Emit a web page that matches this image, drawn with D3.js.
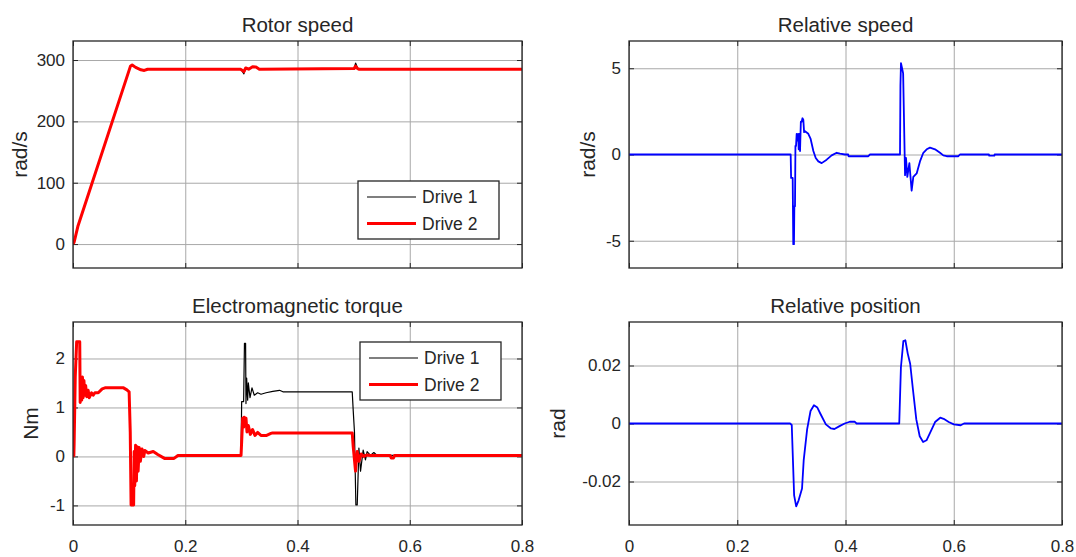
<!DOCTYPE html>
<html>
<head>
<meta charset="utf-8">
<script src="https://cdn.jsdelivr.net/npm/d3@7"></script>
<style>
  html, body { margin: 0; padding: 0; background: #fff; }
  svg { display: block; font-family: "Liberation Sans", Arial, sans-serif; }
  .grid line { stroke: #a8a8a8; stroke-width: 1; }
  .grid path { display: none; }
  .ticks line { stroke: #262626; stroke-width: 1; }
  .ticks path { display: none; }
  .labels path, .labels line { display: none; }
  .labels text { fill: #262626; font-size: 17px; }
</style>
</head>
<body>
<svg id="chart" width="1076" height="557"></svg>
<script>
// time axis ticks (shared)
const timeTicks = [0, 0.2, 0.4, 0.6, 0.8];

// Rotor speed [t, rad/s]
const speedTicks = [0, 100, 200, 300];
const speedDrive1 = [[0,0],[0.002,3],[0.009,30],[0.1024,290],[0.1054,292],[0.1116,288],[0.121,284],[0.127,283],[0.133,285],
  [0.2985,285],[0.302,281],[0.3045,277.5],[0.3077,287],[0.313,285],[0.32,289],[0.326,288.5],[0.332,285],
  [0.5008,286],[0.5035,295],[0.507,287],[0.51,285],[0.8,285]];
const speedDrive2 = [[0,0],[0.002,3],[0.009,30],[0.1024,290],[0.1054,292],[0.1116,288],[0.121,284],[0.127,283],[0.133,285],
  [0.2985,285],[0.302,283],[0.3045,281],[0.3077,287],[0.313,285],[0.32,289],[0.326,288.5],[0.332,285],
  [0.5008,286],[0.5035,290],[0.507,286],[0.51,285],[0.8,285]];

// Electromagnetic torque [t, Nm]
const torqueTicks = [-1, 0, 1, 2];
const torqueDrive1 = [[0,0],[0.0015,0.02],[0.002,0.25],[0.004,1.63],[0.0065,2.34],[0.012,2.34],[0.0128,1.1],[0.0145,1.6],[0.0155,1.15],
  [0.0168,1.62],[0.018,1.2],[0.0195,1.55],[0.021,1.25],[0.0225,1.45],[0.0245,1.22],[0.027,1.35],[0.029,1.2],[0.033,1.3],[0.036,1.25],
  [0.039,1.3],[0.045,1.3],[0.052,1.38],[0.057,1.4],[0.09,1.4],[0.096,1.36],[0.1,1.32],[0.102,0.5],[0.1035,-0.99],[0.108,-0.99],
  [0.109,0.1],[0.11,-0.6],[0.1115,0.23],[0.113,-0.5],[0.1145,0.2],[0.116,-0.3],[0.118,0.18],[0.12,-0.1],[0.123,0.15],[0.126,0],
  [0.128,0.12],[0.134,0.07],[0.143,0.1],[0.151,0.04],[0.163,-0.04],[0.18,-0.04],[0.187,0.02],
  [0.2994,0.02],[0.3005,1.12],[0.304,1.12],[0.3055,2.31],[0.3075,2.31],[0.3082,1.08],[0.3094,1.6],[0.3112,1.15],[0.3124,1.5],
  [0.3154,1.2],[0.3189,1.4],[0.323,1.25],[0.329,1.3],[0.335,1.27],[0.344,1.3],[0.356,1.33],[0.368,1.35],[0.374,1.32],
  [0.4975,1.32],[0.4993,0.93],[0.5015,0.5],[0.504,-0.99],[0.5064,-0.99],[0.5094,0.17],[0.5123,-0.3],[0.517,0.13],[0.5211,-0.07],
  [0.524,0.1],[0.53,0.02],[0.536,0.08],[0.5418,0.02],[0.548,0.02],[0.8,0.02]];
const torqueDrive2 = [[0,0],[0.0015,0.02],[0.002,0.25],[0.004,1.63],[0.0065,2.34],[0.012,2.34],[0.0128,1.1],[0.0145,1.6],[0.0155,1.15],
  [0.0168,1.62],[0.018,1.2],[0.0195,1.55],[0.021,1.25],[0.0225,1.45],[0.0245,1.22],[0.027,1.35],[0.029,1.2],[0.033,1.3],[0.036,1.25],
  [0.039,1.3],[0.045,1.3],[0.052,1.38],[0.057,1.4],[0.09,1.4],[0.096,1.36],[0.1,1.32],[0.102,0.5],[0.1035,-0.99],[0.108,-0.99],
  [0.109,0.1],[0.11,-0.6],[0.1115,0.23],[0.113,-0.5],[0.1145,0.2],[0.116,-0.3],[0.118,0.18],[0.12,-0.1],[0.123,0.15],[0.126,0],
  [0.128,0.12],[0.134,0.07],[0.143,0.1],[0.151,0.04],[0.163,-0.04],[0.18,-0.04],[0.187,0.02],
  [0.2994,0.02],[0.3005,0.3],[0.3023,0.78],[0.304,0.6],[0.305,0.8],[0.3065,0.7],[0.3082,0.78],[0.31,0.5],[0.3124,0.63],[0.316,0.45],
  [0.32,0.55],[0.3242,0.43],[0.3289,0.49],[0.3348,0.43],[0.345,0.43],[0.3526,0.47],[0.3555,0.48],
  [0.4975,0.48],[0.4993,0.2],[0.5034,-0.3],[0.5045,-0.1],[0.5064,0.1],[0.5094,-0.1],[0.5135,0.05],[0.5181,0],[0.524,0.03],[0.53,0.02],
  [0.565,0.02],[0.567,-0.03],[0.571,-0.03],[0.573,0.02],[0.8,0.02]];

// Relative speed [t, rad/s]
const relSpeedTicks = [-5, 0, 5];
const relSpeed = [[0,0],[0.2987,0],[0.2995,-1.36],[0.3024,-1.36],[0.3035,-5.2],[0.3048,-5.2],[0.3055,-3],[0.3067,-3],[0.3075,0.5],
  [0.3086,0.5],[0.3098,1.2],[0.311,0.8],[0.3125,1.2],[0.3135,0.3],[0.3147,1.2],[0.316,0.2],[0.3175,1.9],[0.319,1.9],[0.3205,2.1],
  [0.3221,2],[0.3235,1.3],[0.3252,1.35],[0.3313,1.2],[0.3356,0.9],[0.3406,0.2],[0.345,-0.2],[0.3498,-0.4],[0.356,-0.5],[0.3652,-0.3],
  [0.3744,-0.05],[0.3837,0.1],[0.3898,0.05],[0.399,0],[0.405,0],[0.4055,-0.1],[0.4422,-0.1],[0.4453,0],
  [0.5007,0],[0.5015,4],[0.5025,5.3],[0.5045,5],[0.5065,4.7],[0.5087,1],[0.51,-1.2],[0.5118,-0.2],[0.5142,-1.3],[0.518,-0.5],
  [0.5222,-2.1],[0.5253,-1.3],[0.5315,-1.1],[0.5376,-0.4],[0.5438,0.1],[0.55,0.3],[0.5561,0.4],[0.5654,0.3],[0.5746,0.1],
  [0.5807,-0.05],[0.587,-0.1],[0.6085,-0.1],[0.6115,0],[0.665,0],[0.6655,-0.07],[0.675,-0.07],[0.6755,0],[0.8,0]];

// Relative position [t, rad]
const relPosTicks = [-0.02, 0, 0.02];
const relPos = [[0,0],[0.2976,0],[0.3007,-0.0005],[0.3051,-0.0248],[0.3089,-0.0286],[0.3134,-0.0265],[0.3197,-0.0224],[0.3228,-0.0126],
  [0.3291,-0.002],[0.3354,0.0043],[0.3417,0.0063],[0.348,0.0055],[0.3543,0.0031],[0.3637,-0.0003],[0.3732,-0.0017],[0.3795,-0.0019],
  [0.389,-0.0009],[0.3984,0],[0.4079,0.0006],[0.4173,0.0006],[0.4205,0],[0.4993,0],[0.5024,0.0194],[0.5069,0.0284],[0.5106,0.0287],
  [0.515,0.0241],[0.5195,0.0206],[0.5245,0.0119],[0.5308,0.0014],[0.5371,-0.0044],[0.5434,-0.0064],[0.5497,-0.0058],[0.556,-0.0033],
  [0.5655,0.0005],[0.575,0.002],[0.5813,0.0016],[0.5907,0.0005],[0.6002,-0.0003],[0.6128,-0.0006],[0.619,0],[0.8,0]];

const legendNames = ['Drive 1', 'Drive 2'];

const svg = d3.select('#chart');
const textColor = '#262626';
let clipId = 0;

function makePanel(opt) {
  const w = opt.x1 - opt.x0, h = opt.y1 - opt.y0;
  const x = d3.scaleLinear().domain([0, 0.8]).range([opt.x0, opt.x1]);
  const y = d3.scaleLinear().domain(opt.yDomain).range([opt.y1, opt.y0]);
  const g = svg.append('g');

  // grid
  g.append('g').attr('class', 'grid').attr('transform', `translate(0,${opt.y1})`)
    .call(d3.axisBottom(x).tickValues(timeTicks).tickSize(-h).tickFormat(''));
  g.append('g').attr('class', 'grid').attr('transform', `translate(${opt.x0},0)`)
    .call(d3.axisLeft(y).tickValues(opt.yTicks).tickSize(-w).tickFormat(''));

  // inward tick marks on all four sides
  const tl = 5;
  g.append('g').attr('class', 'ticks').attr('transform', `translate(0,${opt.y1})`)
    .call(d3.axisBottom(x).tickValues(timeTicks).tickSize(-tl).tickFormat(''));
  g.append('g').attr('class', 'ticks').attr('transform', `translate(0,${opt.y0})`)
    .call(d3.axisTop(x).tickValues(timeTicks).tickSize(-tl).tickFormat(''));
  g.append('g').attr('class', 'ticks').attr('transform', `translate(${opt.x0},0)`)
    .call(d3.axisLeft(y).tickValues(opt.yTicks).tickSize(-tl).tickFormat(''));
  g.append('g').attr('class', 'ticks').attr('transform', `translate(${opt.x1},0)`)
    .call(d3.axisRight(y).tickValues(opt.yTicks).tickSize(-tl).tickFormat(''));

  // tick labels
  g.append('g').attr('class', 'labels').attr('transform', `translate(${opt.x0},0)`)
    .call(d3.axisLeft(y).tickValues(opt.yTicks).tickSize(0).tickPadding(8).tickFormat(d => String(d)));
  if (opt.xLabels) {
    g.append('g').attr('class', 'labels').attr('transform', `translate(0,${opt.y1})`)
      .call(d3.axisBottom(x).tickValues(timeTicks).tickSize(0).tickPadding(15).tickFormat(d => String(d)));
  }

  // data
  const id = 'clip' + (clipId++);
  svg.append('clipPath').attr('id', id).append('rect')
    .attr('x', opt.x0).attr('y', opt.y0).attr('width', w).attr('height', h);
  const line = d3.line().x(d => x(d[0])).y(d => y(d[1]));
  opt.series.forEach(s => {
    g.append('path').datum(s.data)
      .attr('clip-path', `url(#${id})`)
      .attr('fill', 'none').attr('stroke', s.color).attr('stroke-width', s.width)
      .attr('stroke-linejoin', 'round').attr('d', line);
  });

  // box
  g.append('rect').attr('x', opt.x0).attr('y', opt.y0).attr('width', w).attr('height', h)
    .attr('fill', 'none').attr('stroke', textColor).attr('stroke-width', 1.3);

  // title & y label
  g.append('text').attr('x', (opt.x0 + opt.x1) / 2).attr('y', opt.y0 - 9)
    .attr('text-anchor', 'middle').attr('fill', textColor).attr('font-size', 20.5).text(opt.title);
  g.append('text').attr('transform', `translate(${opt.ylabelX},${(opt.y0 + opt.y1) / 2}) rotate(-90)`)
    .attr('dy', '0.35em').attr('text-anchor', 'middle').attr('fill', textColor).attr('font-size', 21)
    .text(opt.ylabel);

  // legend
  if (opt.legend) {
    const L = opt.legend;
    const lg = g.append('g');
    lg.append('rect').attr('x', L.x).attr('y', L.y).attr('width', 141).attr('height', 58)
      .attr('fill', '#fff').attr('stroke', textColor).attr('stroke-width', 1.3);
    opt.series.forEach((s, i) => {
      const cy = L.y + 16 + i * 26.5;
      lg.append('line').attr('x1', L.x + 9).attr('x2', L.x + 58).attr('y1', cy).attr('y2', cy)
        .attr('stroke', s.color).attr('stroke-width', s.width);
      lg.append('text').attr('x', L.x + 64).attr('y', cy).attr('dy', '0.35em')
        .attr('fill', textColor).attr('font-size', 17.5).text(legendNames[i]);
    });
  }
}

makePanel({
  x0: 73, x1: 522, y0: 41, y1: 268, yDomain: [-39, 331], yTicks: speedTicks,
  title: 'Rotor speed', ylabel: 'rad/s', ylabelX: 20, xLabels: false,
  series: [{ data: speedDrive1, color: '#000', width: 1.2 }, { data: speedDrive2, color: '#ff0000', width: 3 }],
  legend: { x: 358, y: 181 }
});
makePanel({
  x0: 73, x1: 522, y0: 322, y1: 525, yDomain: [-1.4, 2.745], yTicks: torqueTicks,
  title: 'Electromagnetic torque', ylabel: 'Nm', ylabelX: 31, xLabels: true,
  series: [{ data: torqueDrive1, color: '#000', width: 1.2 }, { data: torqueDrive2, color: '#ff0000', width: 3 }],
  legend: { x: 360, y: 342 }
});
makePanel({
  x0: 629, x1: 1062, y0: 41, y1: 268, yDomain: [-6.58, 6.58], yTicks: relSpeedTicks,
  title: 'Relative speed', ylabel: 'rad/s', ylabelX: 588, xLabels: false,
  series: [{ data: relSpeed, color: '#0000ff', width: 1.8 }]
});
makePanel({
  x0: 629, x1: 1062, y0: 322, y1: 525, yDomain: [-0.035, 0.035], yTicks: relPosTicks,
  title: 'Relative position', ylabel: 'rad', ylabelX: 558, xLabels: true,
  series: [{ data: relPos, color: '#0000ff', width: 1.8 }]
});
</script>
</body>
</html>
